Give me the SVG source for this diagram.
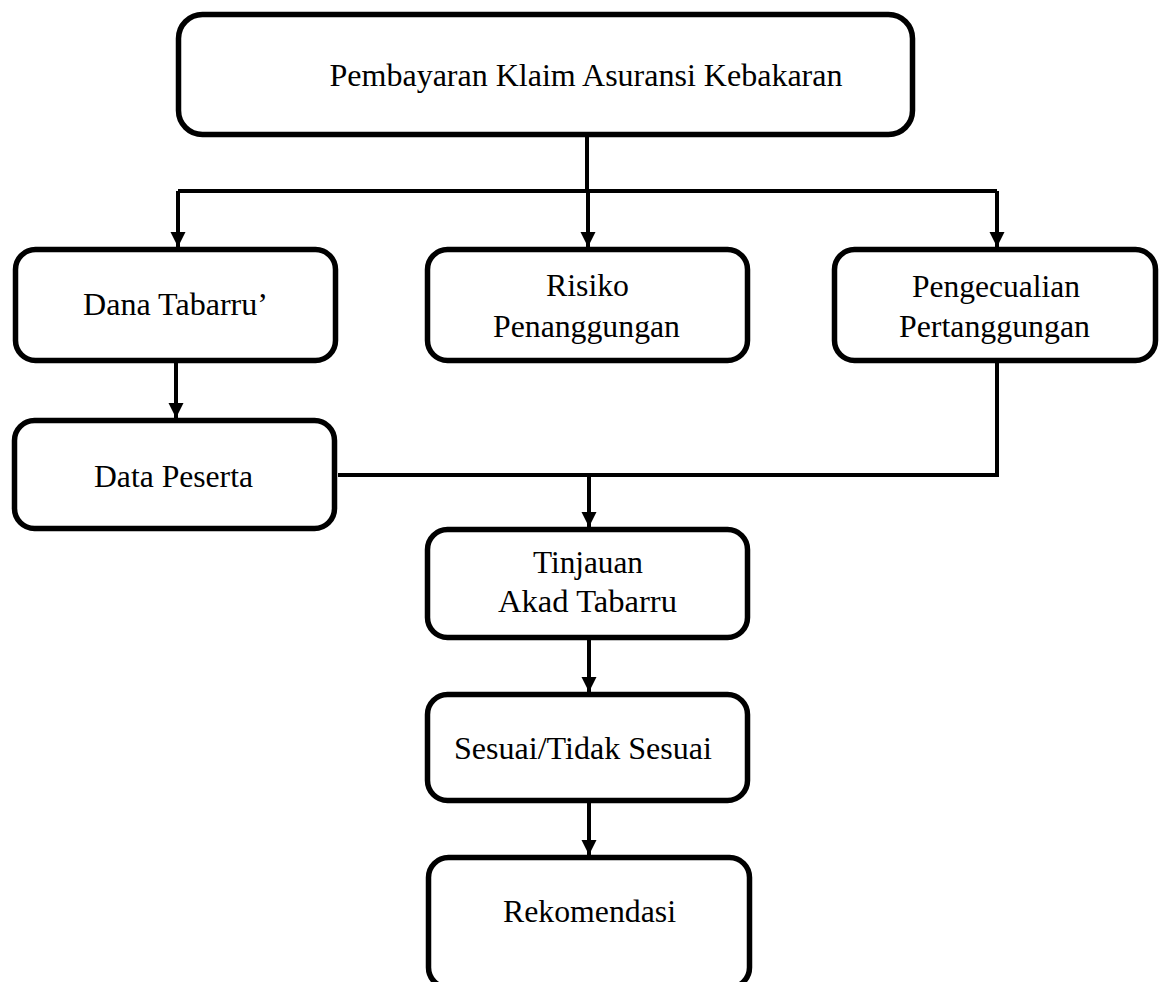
<svg xmlns="http://www.w3.org/2000/svg" width="1165" height="982" viewBox="0 0 1165 982">
<defs>
<style>
.box{fill:#fff;stroke:#000;stroke-width:5.5}
.t{font-family:'Liberation Serif',serif;font-size:31px;fill:#000;text-anchor:middle}
.c{fill:none;stroke:#000;stroke-width:4}
</style>
<marker id="ah" markerUnits="userSpaceOnUse" markerWidth="16" markerHeight="16" refX="15" refY="7.5" orient="auto">
<path d="M0,0 L15,7.5 L0,15 z" fill="#000"/>
</marker>
</defs>
<rect width="1165" height="982" fill="#fff"/>
<g id="connectors">
<path class="c" d="M587,137 V191"/>
<path class="c" d="M178,191 H997"/>
<path class="c" d="M178,191 V247" marker-end="url(#ah)"/>
<path class="c" d="M588,191 V247" marker-end="url(#ah)"/>
<path class="c" d="M997,191 V247" marker-end="url(#ah)"/>
<path class="c" d="M176,363 V418" marker-end="url(#ah)"/>
<path class="c" d="M338,475 H997 V363"/>
<path class="c" d="M589,475 V527" marker-end="url(#ah)"/>
<path class="c" d="M589,640 V692" marker-end="url(#ah)"/>
<path class="c" d="M589,803 V855" marker-end="url(#ah)"/>
</g>
<g id="n-top">
<rect class="box" x="178.5" y="14.5" width="734" height="120" rx="24"/>
<text class="t" x="586" y="86" textLength="513" lengthAdjust="spacingAndGlyphs">Pembayaran Klaim Asuransi Kebakaran</text>
</g>
<g id="n-dana">
<rect class="box" x="15.5" y="249.5" width="320" height="111" rx="20"/>
<text class="t" x="175.5" y="315" textLength="185" lengthAdjust="spacingAndGlyphs">Dana Tabarru’</text>
</g>
<g id="n-risiko">
<rect class="box" x="427.5" y="249.5" width="320" height="111" rx="20"/>
<text class="t" x="587.5" y="296" textLength="83" lengthAdjust="spacingAndGlyphs">Risiko</text>
<text class="t" x="586.5" y="337" textLength="187" lengthAdjust="spacingAndGlyphs">Penanggungan</text>
</g>
<g id="n-pengecualian">
<rect class="box" x="834.5" y="249.5" width="321" height="111" rx="20"/>
<text class="t" x="996" y="297" textLength="168" lengthAdjust="spacingAndGlyphs">Pengecualian</text>
<text class="t" x="994.5" y="337" textLength="191" lengthAdjust="spacingAndGlyphs">Pertanggungan</text>
</g>
<g id="n-data">
<rect class="box" x="14.5" y="420.5" width="320" height="108" rx="20"/>
<text class="t" x="173.5" y="487" textLength="159" lengthAdjust="spacingAndGlyphs">Data Peserta</text>
</g>
<g id="n-tinjauan">
<rect class="box" x="427.5" y="529.5" width="320" height="108" rx="20"/>
<text class="t" x="588" y="573" textLength="110" lengthAdjust="spacingAndGlyphs">Tinjauan</text>
<text class="t" x="587.5" y="612" textLength="179" lengthAdjust="spacingAndGlyphs">Akad Tabarru</text>
</g>
<g id="n-sesuai">
<rect class="box" x="427.5" y="694.5" width="320" height="106" rx="20"/>
<text class="t" x="583" y="759" textLength="258" lengthAdjust="spacingAndGlyphs">Sesuai/Tidak Sesuai</text>
</g>
<g id="n-rekomendasi">
<rect class="box" x="428.5" y="857.5" width="321" height="130" rx="20"/>
<text class="t" x="589.5" y="922" textLength="173" lengthAdjust="spacingAndGlyphs">Rekomendasi</text>
</g>
</svg>
